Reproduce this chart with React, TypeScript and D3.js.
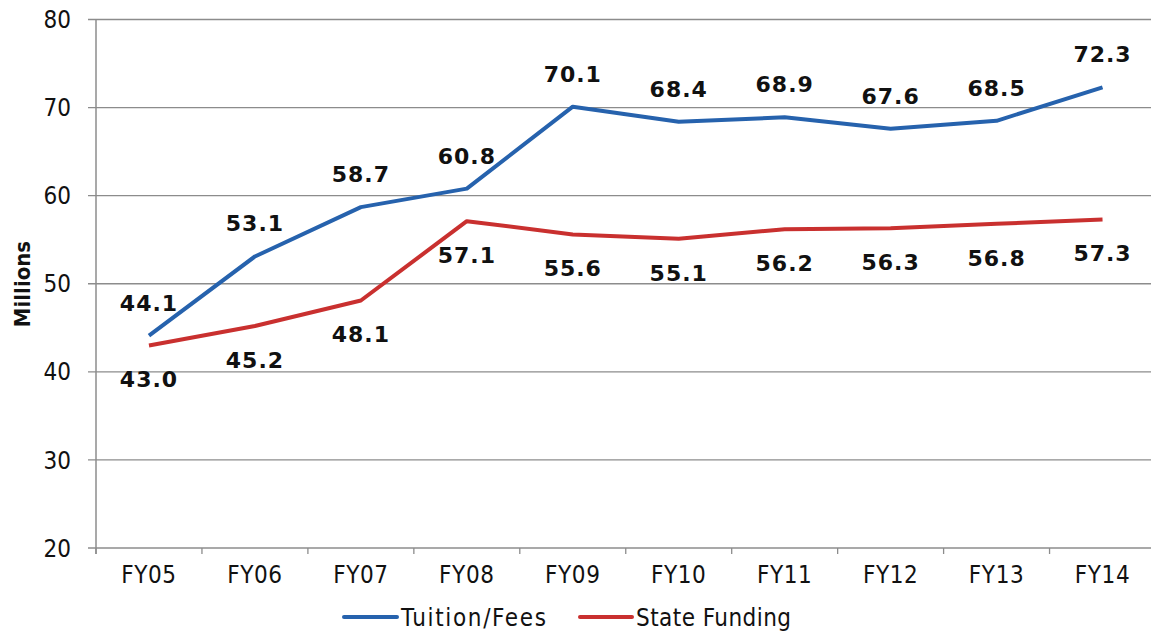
import React from "react";
import * as d3 from "d3";

const categories = ["FY05", "FY06", "FY07", "FY08", "FY09", "FY10", "FY11", "FY12", "FY13", "FY14"];
const tuitionFees = [44.1, 53.1, 58.7, 60.8, 70.1, 68.4, 68.9, 67.6, 68.5, 72.3];
const stateFunding = [43.0, 45.2, 48.1, 57.1, 55.6, 55.1, 56.2, 56.3, 56.8, 57.3];
const yTicks = [20, 30, 40, 50, 60, 70, 80];
const seriesNames = ["Tuition/Fees", "State Funding"];

const W = 1151;
const H = 635;
const left = 96;
const right = 1155.5;
const top = 19.5;
const bottom = 548;
const blue = "#2662ad";
const red = "#c9302f";
const grid = "#8c8c8c";
const font = "'DejaVu Sans', Verdana, sans-serif";
const condFont = "'DejaVu Sans Condensed', 'DejaVu Sans', sans-serif";

export default function App() {
  const x = d3.scaleBand<string>().domain(categories).range([left, right]);
  const y = d3.scaleLinear().domain([20, 80]).range([bottom, top]);
  const cx = (c: string) => (x(c) as number) + x.bandwidth() / 2;
  const line = d3
    .line<number>()
    .x((_, i) => cx(categories[i]))
    .y((d) => y(d));

  return (
    <svg
      width={W}
      height={H}
      style={{ position: "absolute", left: 0, top: 0, background: "#fff" }}
    >
      {yTicks.map((t) => (
        <g key={t}>
          <line x1={left - 8} x2={W} y1={y(t)} y2={y(t)} stroke={grid} strokeWidth={1.3} />
          <text
            x={71}
            y={y(t)}
            dy="0.36em"
            textAnchor="end"
            fontFamily={condFont}
            fontStretch="condensed"
            fontSize={24}
            fill="#111"
          >
            {t}
          </text>
        </g>
      ))}
      <line x1={left} x2={left} y1={top} y2={bottom + 6} stroke={grid} strokeWidth={1.5} />
      {categories.map((c) => (
        <g key={c}>
          <line
            x1={x(c) as number}
            x2={x(c) as number}
            y1={bottom}
            y2={bottom + 6}
            stroke={grid}
            strokeWidth={1.3}
          />
          <text
            x={cx(c)}
            y={574}
            dy="0.36em"
            textAnchor="middle"
            fontFamily={condFont}
            fontStretch="condensed"
            fontSize={24}
            letterSpacing={0.6}
            fill="#111"
          >
            {c}
          </text>
        </g>
      ))}
      <text
        transform={`translate(22,${284}) rotate(-90)`}
        textAnchor="middle"
        dy="0.36em"
        fontFamily={condFont}
        fontStretch="condensed"
        fontWeight="bold"
        fontSize={22}
        fill="#111"
      >
        Millions
      </text>
      <path d={line(stateFunding) || ""} fill="none" stroke={red} strokeWidth={4} strokeLinejoin="round" />
      <path d={line(tuitionFees) || ""} fill="none" stroke={blue} strokeWidth={4} strokeLinejoin="round" />
      {tuitionFees.map((v, i) => (
        <text
          key={"t" + i}
          x={cx(categories[i])}
          y={y(v) - 33}
          dy="0.36em"
          textAnchor="middle"
          fontFamily={font}
          fontWeight="bold"
          fontSize={22}
          letterSpacing={1}
          fill="#111"
        >
          {v.toFixed(1)}
        </text>
      ))}
      {stateFunding.map((v, i) => (
        <text
          key={"s" + i}
          x={cx(categories[i])}
          y={y(v) + 34}
          dy="0.36em"
          textAnchor="middle"
          fontFamily={font}
          fontWeight="bold"
          fontSize={22}
          letterSpacing={1}
          fill="#111"
        >
          {v.toFixed(1)}
        </text>
      ))}
      <g>
        <line x1={344} x2={397} y1={617} y2={617} stroke={blue} strokeWidth={4} strokeLinecap="round" />
        <text
          x={401}
          y={617}
          dy="0.36em"
          fontFamily={condFont}
          fontStretch="condensed"
          fontSize={24}
          textLength={145}
          lengthAdjust="spacing"
          fill="#111"
        >
          {seriesNames[0]}
        </text>
        <line x1={580} x2={632} y1={617} y2={617} stroke={red} strokeWidth={4} strokeLinecap="round" />
        <text
          x={636}
          y={617}
          dy="0.36em"
          fontFamily={condFont}
          fontStretch="condensed"
          fontSize={24}
          textLength={155}
          lengthAdjust="spacing"
          fill="#111"
        >
          {seriesNames[1]}
        </text>
      </g>
    </svg>
  );
}
